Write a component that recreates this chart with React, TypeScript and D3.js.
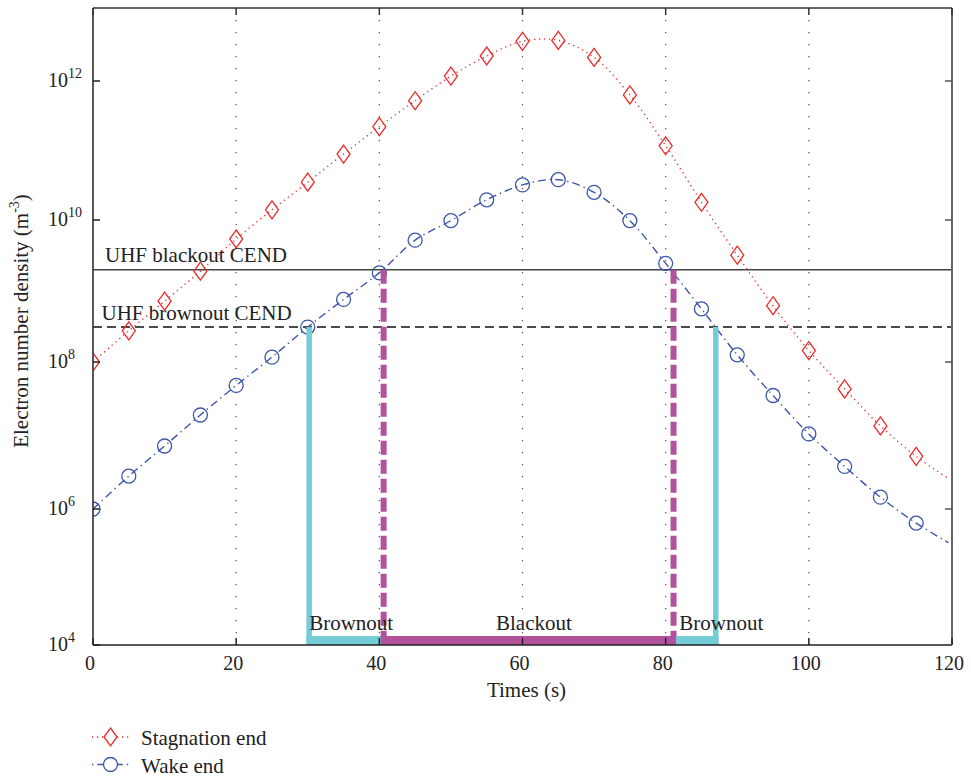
import React from "react";
import * as d3 from "d3";

// ---- data ----
const times = [0, 5, 10, 15, 20, 25, 30, 35, 40, 45, 50, 55, 60, 65, 70, 75, 80, 85, 90, 95, 100, 105, 110, 115];
const stagnation = [1.0e8, 2.75e8, 7.2e8, 1.9e9, 5.4e9, 1.4e10, 3.5e10, 8.9e10, 2.2e11, 5.2e11, 1.17e12, 2.2e12, 3.5e12, 3.6e12, 2.1e12, 6.3e11, 1.17e11, 1.8e10, 3.2e9, 6.2e8, 1.45e8, 4.3e7, 1.35e7, 5.2e6];
const wake = [1.0e6, 2.8e6, 7.2e6, 1.9e7, 4.8e7, 1.17e8, 3.1e8, 7.6e8, 1.8e9, 5.2e9, 9.8e9, 1.95e10, 3.2e10, 3.8e10, 2.5e10, 9.8e9, 2.45e9, 5.6e8, 1.26e8, 3.5e7, 1.05e7, 3.8e6, 1.45e6, 6.2e5];
const lineEndTime = 119.5;
const stagnationEnd = 2.6e6;
const wakeEnd = 3.2e5;

const blackoutCEND = 2.0e9;
const brownoutCEND = 3.1e8;
const brownoutStart = 30.2;
const blackoutStart = 40.6;
const blackoutEnd = 81.1;
const brownoutEnd = 87.0;

const xTicks = [0, 20, 40, 60, 80, 100, 120];
const yTickExps = [4, 6, 8, 10, 12];
const gridTimes = [20, 40, 60, 80, 100];

const RED = "#ee2a2a";
const BLUE = "#3b55a8";
const CYAN = "#74ccd6";
const PURPLE = "#b3529c";
const FONT = "'Liberation Serif', 'Times New Roman', serif";

export default function App() {
  const left = 93, right = 952, top = 8, bottom = 645;
  const x = d3.scaleLinear().domain([0, 120]).range([left, right]);
  const y = d3
    .scaleLog()
    .domain([1e4, 1e6, 1e8, 1e10, 1e12, 1e13])
    .range([bottom, 509, 362, 220, 81, top]);

  const line = d3
    .line<[number, number]>()
    .x((d) => x(d[0]))
    .y((d) => y(d[1]))
    .curve(d3.curveCatmullRom.alpha(0.5));

  const stagPts: [number, number][] = times.map((t, i) => [t, stagnation[i]]);
  stagPts.push([lineEndTime, stagnationEnd]);
  const wakePts: [number, number][] = times.map((t, i) => [t, wake[i]]);
  wakePts.push([lineEndTime, wakeEnd]);

  const diamond = "M0,-9L6.5,0L0,9L-6.5,0Z";
  const yB = y(1e4);
  const bandH = 9;

  return (
    <svg
      width={971}
      height={778}
      style={{ position: "absolute", left: 0, top: 0, background: "#fff" }}
      fontFamily={FONT}
    >
      <defs>
        <clipPath id="plotClip">
          <rect x={left} y={top} width={right - left} height={bottom - top} />
        </clipPath>
      </defs>
      <rect x={0} y={0} width={971} height={778} fill="#fff" />

      {/* grid */}
      {gridTimes.map((t) => (
        <line key={t} x1={x(t)} x2={x(t)} y1={top} y2={bottom} stroke="#555" strokeWidth={1.2} strokeDasharray="1.2,10.8" />
      ))}

      {/* CEND lines */}
      <line x1={left} x2={right} y1={y(blackoutCEND)} y2={y(blackoutCEND)} stroke="#444" strokeWidth={1.5} />
      <line x1={left} x2={right} y1={y(brownoutCEND)} y2={y(brownoutCEND)} stroke="#111" strokeWidth={1.5} strokeDasharray="9,5" />
      <text x={105} y={262} fontSize={21} fill="#222">UHF blackout CEND</text>
      <text x={101.5} y={320} fontSize={21} fill="#222">UHF brownout CEND</text>

      {/* data lines */}
      <g clipPath="url(#plotClip)">
        <path d={line(stagPts) || ""} fill="none" stroke={RED} strokeWidth={1.4} strokeDasharray="1.2,3.8" />
        <path d={line(wakePts) || ""} fill="none" stroke={BLUE} strokeWidth={1.4} strokeDasharray="8,4,1.4,4" />
        {times.map((t, i) => (
          <path key={"s" + i} d={diamond} transform={`translate(${x(t)},${y(stagnation[i])})`} fill="none" stroke={RED} strokeWidth={1.3} />
        ))}
        {times.map((t, i) => (
          <circle key={"w" + i} cx={x(t)} cy={y(wake[i])} r={7} fill="none" stroke={BLUE} strokeWidth={1.3} />
        ))}
      </g>

      {/* brownout / blackout markers */}
      <rect x={x(brownoutStart) - 2.75} y={yB - bandH} width={x(brownoutEnd) - x(brownoutStart) + 5.5} height={bandH} fill={CYAN} />
      <line x1={x(brownoutStart)} x2={x(brownoutStart)} y1={y(brownoutCEND)} y2={yB} stroke={CYAN} strokeWidth={5.5} />
      <line x1={x(brownoutEnd)} x2={x(brownoutEnd)} y1={y(brownoutCEND)} y2={yB} stroke={CYAN} strokeWidth={5.5} />
      <rect x={x(blackoutStart) - 3} y={yB - bandH} width={x(blackoutEnd) - x(blackoutStart) + 5.5} height={bandH} fill={PURPLE} />
      <line x1={x(blackoutStart)} x2={x(blackoutStart)} y1={y(blackoutCEND)} y2={yB - bandH} stroke={PURPLE} strokeWidth={6} strokeDasharray="14,5" />
      <line x1={x(blackoutEnd)} x2={x(blackoutEnd)} y1={y(blackoutCEND)} y2={yB - bandH} stroke={PURPLE} strokeWidth={6} strokeDasharray="14,5" />
      <text x={x(brownoutStart)} y={630} fontSize={21} fill="#222">Brownout</text>
      <text x={x(61.6)} y={630} fontSize={21} fill="#222" textAnchor="middle">Blackout</text>
      <text x={x(81.9)} y={630} fontSize={21} fill="#222">Brownout</text>

      {/* axes box */}
      <line x1={left} x2={right} y1={top} y2={top} stroke="#333" strokeWidth={1.5} />
      <line x1={left} x2={right} y1={bottom} y2={bottom} stroke="#222" strokeWidth={1.5} />
      <line x1={left} x2={left} y1={top} y2={bottom} stroke="#222" strokeWidth={1.5} />
      <line x1={right} x2={right} y1={top} y2={bottom} stroke="#666" strokeWidth={2} />

      {/* x ticks */}
      {xTicks.map((t) => (
        <g key={"xt" + t}>
          <line x1={x(t)} x2={x(t)} y1={bottom} y2={bottom - 7} stroke="#222" strokeWidth={1.5} />
          <line x1={x(t)} x2={x(t)} y1={top} y2={top + 7} stroke="#333" strokeWidth={1.5} />
          <text x={x(t) - 3} y={670} fontSize={20} textAnchor="middle" fill="#222">{t}</text>
        </g>
      ))}

      {/* y ticks */}
      {yTickExps.map((e) => (
        <g key={"yt" + e}>
          <line x1={left} x2={left + 7} y1={y(Math.pow(10, e))} y2={y(Math.pow(10, e))} stroke="#222" strokeWidth={1.5} />
          <line x1={right} x2={right - 7} y1={y(Math.pow(10, e))} y2={y(Math.pow(10, e))} stroke="#555" strokeWidth={1.5} />
          <text x={48} y={y(Math.pow(10, e)) + 6} fontSize={20} fill="#222">
            10<tspan fontSize={14} dy={-9}>{e}</tspan>
          </text>
        </g>
      ))}

      {/* axis labels */}
      <text x={x(60) + 4} y={697} fontSize={21} textAnchor="middle" fill="#222">Times (s)</text>
      <text transform="translate(28,321) rotate(-90)" fontSize={21} textAnchor="middle" fill="#222">
        Electron number density (m<tspan fontSize={14} dy={-9}>-3</tspan><tspan dy={9}>)</tspan>
      </text>

      {/* legend */}
      <g>
        <line x1={92} x2={129} y1={737} y2={737} stroke={RED} strokeWidth={1.4} strokeDasharray="1.2,3.8" />
        <path d={diamond} transform="translate(110.5,737)" fill="#fff" stroke={RED} strokeWidth={1.3} />
        <text x={141} y={744.5} fontSize={21} fill="#222">Stagnation end</text>
        <line x1={92} x2={129} y1={764.5} y2={764.5} stroke={BLUE} strokeWidth={1.4} strokeDasharray="1.4,4,8,4" />
        <circle cx={110.5} cy={764.5} r={7} fill="#fff" stroke={BLUE} strokeWidth={1.3} />
        <text x={141} y={773} fontSize={21} fill="#222">Wake end</text>
      </g>
    </svg>
  );
}
